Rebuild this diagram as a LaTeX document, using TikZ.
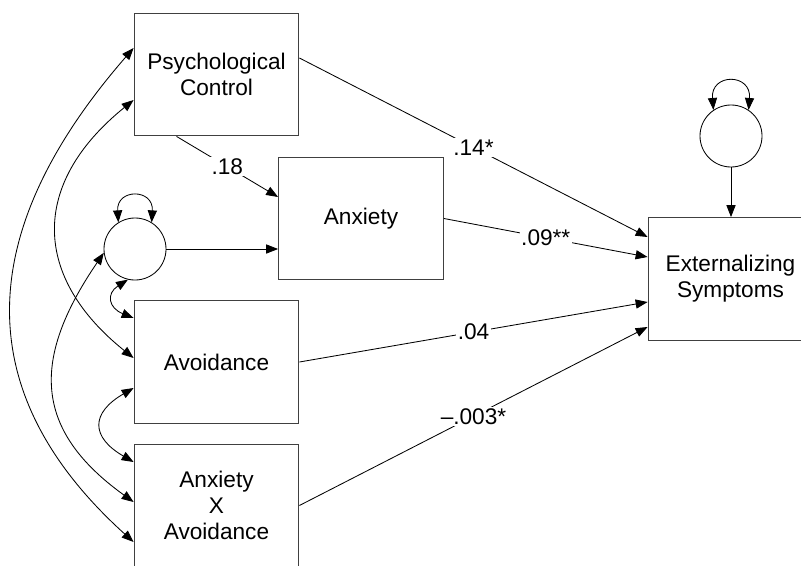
\documentclass[tikz,border=0pt]{standalone}
\usepackage{fontspec}
\setmainfont{Liberation Sans}
\usetikzlibrary{arrows.meta,calc,positioning}

\begin{document}
\begin{tikzpicture}[
    x=0.025cm, y=-0.025cm,
    box/.style={rectangle, draw=black!75, line width=0.7pt, minimum width=4.12cm, minimum height=3.07cm, align=center, font=\fontsize{16.1}{18.5}\selectfont},
    errc/.style={circle, draw, line width=0.6pt, minimum size=1.55cm, inner sep=0pt},
    arrow/.style={-{Triangle[length=8.5pt,width=6.5pt]}, line width=0.6pt},
    dbl/.style={{Triangle[length=8.5pt,width=6.5pt]}-{Triangle[length=8.5pt,width=6.5pt]}, line width=0.6pt},
    lbl/.style={fill=white, inner sep=1pt, font=\fontsize{16.1}{18.5}\selectfont}
]
\useasboundingbox (0,0) rectangle (801,565);

% Predictors
\node[box] (pc) at (216.5,74.5) {Psychological\\Control};
\node[box] (anx) at (361,218.5) {Anxiety};
\node[box] (avo) at (216.5,362) {Avoidance};
\node[box] (axa) at (216.5,505.5) {Anxiety\\X\\Avoidance};

% Outcome
\node[box] (ext) at (730.5,279) {Externalizing\\Symptoms};

% Residuals
\node[errc] (e1) at (135,249) {};
\node[errc] (e2) at (731,136) {};

% Paths
\draw[arrow] ($(pc.south)+(-40,0)$) -- node[lbl] {.18} ($(anx.west)+(0,-21.5)$);
\draw[arrow] ($(pc.east)+(0,-16.5)$) -- node[lbl] {.14*} ($(ext.west)+(0,-42)$);
\draw[arrow] (anx.east) -- node[lbl] {.09**} ($(ext.west)+(0,-22)$);
\draw[arrow] (avo.east) -- node[lbl] {.04} ($(ext.west)+(0,23)$);
\draw[arrow] (axa.east) -- node[lbl] {\textendash.003*} ($(ext.west)+(0,48)$);
\draw[arrow] (e1.east) -- (e1 -| anx.west);
\draw[arrow] (e2.south) -- (e2 |- ext.north);

% Variances
\draw[dbl] (e1.122) .. controls +(-2,-34) and +(2,-34) .. (e1.58);
\draw[dbl] (e2.124) .. controls +(-3,-37) and +(3,-37) .. (e2.56);

% Covariances
\draw[dbl] ($(pc.west)+(0,-26.5)$) .. controls +(-162.7,187) and +(-162.7,-147) .. ($(axa.west)+(0,36.5)$);
\draw[dbl] ($(pc.west)+(0,25.5)$) .. controls +(-105,85) and +(-100,-80) .. ($(avo.west)+(0,-4)$);
\draw[dbl] (e1.187) .. controls +(-73,107) and +(-100,-72) .. ($(axa.west)+(0,-3.5)$);
\draw[dbl] (e1.257) .. controls +(-22,14) and +(-25,-10) .. ($(avo.west)+(0,-44)$);
\draw[dbl] ($(avo.west)+(0,26)$) .. controls +(-43,25) and +(-43,-25) .. ($(axa.west)+(0,-43.5)$);

\end{tikzpicture}
\end{document}
